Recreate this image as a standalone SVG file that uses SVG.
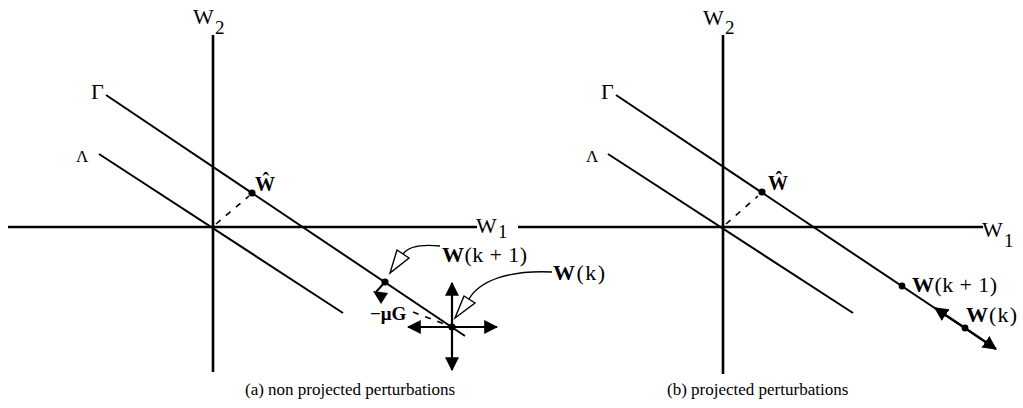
<svg xmlns="http://www.w3.org/2000/svg" width="1023" height="408" viewBox="0 0 1023 408">
<style>
.ax{stroke:#000;stroke-width:2.6;fill:none}
.ln{stroke:#000;stroke-width:2;fill:none}
.ds{stroke:#000;stroke-width:1.6;stroke-dasharray:6 7;fill:none}
.co{stroke:#000;stroke-width:1.4;fill:none}
.tri{fill:#fff;stroke:#000;stroke-width:1.4}
.ar{stroke:#000;stroke-width:2.2;fill:none}
text{font-family:"Liberation Serif","Times New Roman",serif;fill:#000}
.lb{font-size:22px}
.ax1{font-size:22px}
.sub{font-size:19px}
.cap{font-size:17px}
.b{font-weight:bold}
</style>
<defs>
<marker id="ah" viewBox="0 0 12 12" refX="11" refY="6" markerWidth="14" markerHeight="14" markerUnits="userSpaceOnUse" orient="auto">
<path d="M0,0 L12,6 L0,12 z" fill="#000"/>
</marker>
</defs>
<rect width="1023" height="408" fill="#fff"/>

<g id="axes">
<line class="ax" x1="8" y1="227" x2="477" y2="227"/>
<line class="ax" x1="518" y1="227" x2="983" y2="227"/>
<line class="ax" x1="213" y1="35" x2="213" y2="372"/>
<line class="ax" x1="723" y1="35" x2="723" y2="374"/>
<text class="ax1" x="193" y="24">W</text><text class="sub" x="215" y="34">2</text>
<text class="ax1" x="703" y="25">W</text><text class="sub" x="725" y="34">2</text>
<text class="ax1" x="476" y="233">W</text><text class="sub" x="498" y="238">1</text>
<text class="ax1" x="982" y="237">W</text><text class="sub" x="1004" y="247">1</text>
</g>

<g id="panel-a">
<line class="ln" x1="106" y1="95" x2="465" y2="336"/>
<line class="ln" x1="99" y1="154" x2="343" y2="313"/>
<text class="lb" x="91" y="99">Γ</text>
<text x="76" y="162" style="font-size:17px">Λ</text>
<line class="ds" x1="216" y1="224" x2="249" y2="196"/>
<circle cx="252" cy="193" r="3.6"/>
<text class="b" x="255" y="191" style="font-size:20px">Ŵ</text>
<circle cx="385" cy="282" r="3.6"/>
<circle cx="452" cy="327" r="3.6"/>
<path d="M385,282 L376,292" class="ln"/>
<polygon points="373,291 388,293 381,304" fill="#000"/>
<text class="b" x="370" y="320" style="font-size:19px">−μG</text>
<line class="ds" x1="413" y1="312" x2="447" y2="325"/>
<text class="lb" x="442" y="262" textLength="85" lengthAdjust="spacing"><tspan class="b">W</tspan>(k + 1)</text>
<text class="lb" x="553" y="280" textLength="52" lengthAdjust="spacing"><tspan class="b">W</tspan>(k)</text>
<text class="cap" x="245" y="395">(a) non projected perturbations</text>
</g>

<g id="panel-b">
<line class="ln" x1="616" y1="95" x2="990" y2="345"/>
<line class="ln" x1="608" y1="154" x2="853" y2="313"/>
<text class="lb" x="601" y="99">Γ</text>
<text x="586" y="162" style="font-size:17px">Λ</text>
<line class="ds" x1="726" y1="224" x2="758" y2="196"/>
<circle cx="762" cy="192" r="3.6"/>
<text class="b" x="768" y="190" style="font-size:20px">Ŵ</text>
<circle cx="902" cy="286" r="3.4"/>
<circle cx="965" cy="328" r="3.4"/>
<text class="lb" x="912" y="292" textLength="85" lengthAdjust="spacing"><tspan class="b">W</tspan>(k + 1)</text>
<text class="lb" x="966" y="322" textLength="51" lengthAdjust="spacing"><tspan class="b">W</tspan>(k)</text>
<text class="cap" x="667" y="395">(b) projected perturbations</text>
</g>

<g id="connectors">
<line class="ar" x1="452" y1="327" x2="452" y2="283" marker-end="url(#ah)"/>
<line class="ar" x1="452" y1="327" x2="452" y2="370" marker-end="url(#ah)"/>
<line class="ar" x1="452" y1="327" x2="408" y2="327" marker-end="url(#ah)"/>
<line class="ar" x1="452" y1="327" x2="497" y2="327" marker-end="url(#ah)"/>
<path class="co" d="M440,246 C420,244 408,247 403,254"/>
<polygon class="tri" points="397,250 409,258 390,273"/>
<path class="co" d="M552,272 C510,270 480,280 469,299"/>
<polygon class="tri" points="464,296 475,303 455,318"/>
<line class="ar" x1="965" y1="328" x2="935" y2="308" marker-end="url(#ah)"/>
<line class="ar" x1="965" y1="328" x2="996" y2="349" marker-end="url(#ah)"/>
</g>
</svg>
